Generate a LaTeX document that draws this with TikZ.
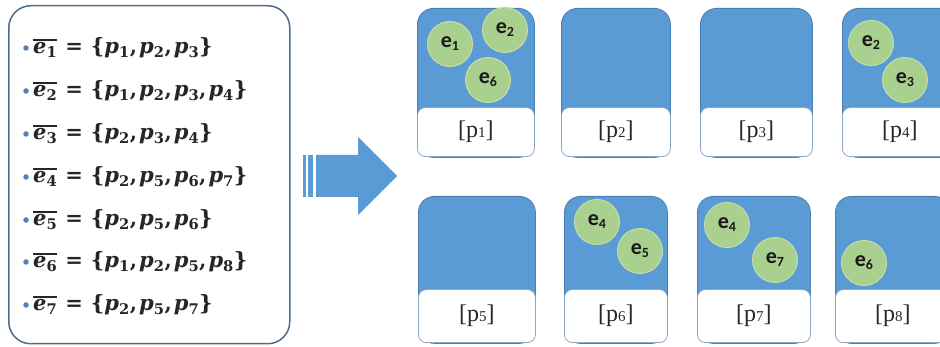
\documentclass[tikz,border=0pt]{standalone}
\usepackage{fontspec}
\setmainfont{Liberation Serif}
\newfontfamily\calibri{Carlito}
\newfontfamily\dvserif{DejaVu Serif}
\definecolor{tileblue}{HTML}{5B9BD5}
\definecolor{tileedge}{HTML}{4A7EB5}
\definecolor{labedge}{HTML}{8FA6C4}
\definecolor{boxedge}{HTML}{4E6C8C}
\definecolor{ballfill}{HTML}{A9D08E}
\definecolor{balledge}{HTML}{C3DEA8}
\definecolor{bulletblue}{HTML}{4F81BD}
\definecolor{mathtextcol}{HTML}{262626}
\tikzset{
 tilebox/.style={draw=tileedge, fill=tileblue, rounded corners=16pt, line width=0.8pt, inner sep=0pt, anchor=north west},
 labbox/.style={draw=labedge, fill=white, rounded corners=8pt, line width=0.8pt, inner sep=0pt, anchor=south west, font=\fontsize{24}{24}\selectfont, text=black!85},
 ball/.style={circle, fill=ballfill, draw=balledge, line width=1pt, minimum size=45pt, inner sep=0pt, font=\calibri\bfseries\fontsize{22}{22}\selectfont, text=black!90},
 setline/.style={anchor=west, inner sep=0pt, text=mathtextcol, font=\dvserif\bfseries\fontsize{21}{24}\selectfont},
 bulletdot/.style={circle, fill=bulletblue, minimum size=5.5pt, inner sep=0pt},
 listbox/.style={draw=boxedge, line width=1.5pt, rounded corners=22pt, fill=white},
}
\newcommand\ovl[1]{\leavevmode\vbox{\hrule height 1.2pt\kern 2pt\hbox{#1}}}
\newcommand\ebar[1]{\ovl{\textit{e}\textsubscript{#1}}}
\newcommand\pp[1]{\textit{p}\textsubscript{#1}}
\newcommand\eqsign{\hspace{8pt}=\hspace{8pt}}
\newcommand\lbr{\textbraceleft}
\newcommand\rbr{\textbraceright}
\newcommand\cm{,\hspace{2pt}}
\newcommand\plab[1]{[p{\fontsize{15}{15}\selectfont #1}]}
\newcommand\ee[1]{e\raisebox{-3pt}{\fontsize{14}{14}\selectfont #1}}
\begin{document}
\begin{tikzpicture}[x=1pt,y=-1pt]
\path[use as bounding box] (0,0) rectangle (940,347);
\node[listbox, anchor=north west, minimum width=281pt, minimum height=338pt, inner sep=0pt] (lb) at (8,5) {};
\node[bulletdot] (bd1) at (26,48) {};
\node[bulletdot] (bd2) at (26,91) {};
\node[bulletdot] (bd3) at (26,134) {};
\node[bulletdot] (bd4) at (26,177) {};
\node[bulletdot] (bd5) at (26,220) {};
\node[bulletdot] (bd6) at (26,262) {};
\node[bulletdot] (bd7) at (26,305) {};
\node[setline] (sl1) at (33,48) {\ebar{1}\eqsign\lbr\pp{1}\cm\pp{2}\cm\pp{3}\rbr};
\node[setline] (sl2) at (33,91) {\ebar{2}\eqsign\lbr\pp{1}\cm\pp{2}\cm\pp{3}\cm\pp{4}\rbr};
\node[setline] (sl3) at (33,134) {\ebar{3}\eqsign\lbr\pp{2}\cm\pp{3}\cm\pp{4}\rbr};
\node[setline] (sl4) at (33,177) {\ebar{4}\eqsign\lbr\pp{2}\cm\pp{5}\cm\pp{6}\cm\pp{7}\rbr};
\node[setline] (sl5) at (33,220) {\ebar{5}\eqsign\lbr\pp{2}\cm\pp{5}\cm\pp{6}\rbr};
\node[setline] (sl6) at (33,262) {\ebar{6}\eqsign\lbr\pp{1}\cm\pp{2}\cm\pp{5}\cm\pp{8}\rbr};
\node[setline] (sl7) at (33,305) {\ebar{7}\eqsign\lbr\pp{2}\cm\pp{5}\cm\pp{7}\rbr};
\fill[tileblue] (316,155) -- (358,155) -- (358,137) -- (397,176) -- (358,215) -- (358,197) -- (316,197) -- cycle;
\fill[tileblue] (303,155) rectangle (306,197);
\fill[tileblue] (308,155) rectangle (313,197);
\node[tilebox, minimum width=117pt, minimum height=149pt] (t1) at (417,8) {};
\node[labbox, minimum width=117pt, minimum height=49pt] (t1l) at (417,157) {\plab{1}};
\node[tilebox, minimum width=109pt, minimum height=149pt] (t2) at (561,8) {};
\node[labbox, minimum width=109pt, minimum height=49pt] (t2l) at (561,157) {\plab{2}};
\node[tilebox, minimum width=112pt, minimum height=149pt] (t3) at (700,8) {};
\node[labbox, minimum width=112pt, minimum height=49pt] (t3l) at (700,157) {\plab{3}};
\node[tilebox, minimum width=115pt, minimum height=149pt] (t4) at (842,8) {};
\node[labbox, minimum width=115pt, minimum height=49pt] (t4l) at (842,157) {\plab{4}};
\node[tilebox, minimum width=117pt, minimum height=147pt] (t5) at (418,196) {};
\node[labbox, minimum width=117pt, minimum height=53pt] (t5l) at (418,343) {\plab{5}};
\node[tilebox, minimum width=103pt, minimum height=147pt] (t6) at (564,196) {};
\node[labbox, minimum width=103pt, minimum height=53pt] (t6l) at (564,343) {\plab{6}};
\node[tilebox, minimum width=113pt, minimum height=147pt] (t7) at (697,196) {};
\node[labbox, minimum width=113pt, minimum height=53pt] (t7l) at (697,343) {\plab{7}};
\node[tilebox, minimum width=115pt, minimum height=147pt] (t8) at (835,196) {};
\node[labbox, minimum width=115pt, minimum height=53pt] (t8l) at (835,343) {\plab{8}};
\node[ball] (b1a) at (450,44) {\ee{1}};
\node[ball] (b1b) at (505,30) {\ee{2}};
\node[ball] (b1c) at (488,80) {\ee{6}};
\node[ball] (b4a) at (871,43) {\ee{2}};
\node[ball] (b4b) at (905,80) {\ee{3}};
\node[ball] (b6a) at (597,222) {\ee{4}};
\node[ball] (b6b) at (640,251) {\ee{5}};
\node[ball] (b7a) at (727,225) {\ee{4}};
\node[ball] (b7b) at (775,260) {\ee{7}};
\node[ball] (b8a) at (864,263) {\ee{6}};
\end{tikzpicture}
\end{document}
